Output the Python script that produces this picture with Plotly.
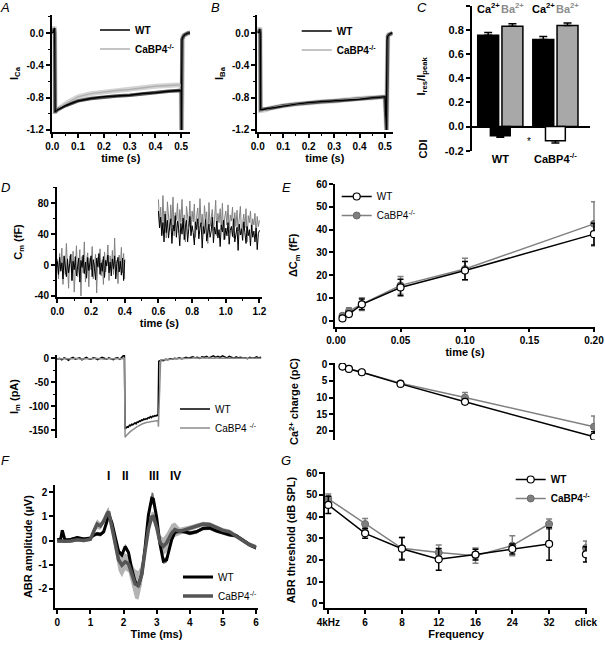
import numpy as np
import plotly.graph_objects as go

FONT = "Arial, 'Liberation Sans', Helvetica, sans-serif"
W, H = 605, 646

# ---------------- data ----------------
# Panel A: normalised Ca2+ current
t_A = [0, 0.004, 0.008, 0.0095, 0.011, 0.013, 0.02, 0.03, 0.05, 0.075, 0.1,
       0.15, 0.2, 0.25, 0.3, 0.35, 0.4, 0.45, 0.5,
       0.501, 0.503, 0.506, 0.51, 0.515, 0.52, 0.527, 0.535]
ica_wt = [0, 0.01, 0.06, 0.0, -0.97, -0.97, -0.95, -0.93, -0.90, -0.87, -0.84,
          -0.81, -0.79, -0.78, -0.77, -0.75, -0.74, -0.72, -0.71,
          -1.2, -0.08, -0.05, -0.03, -0.02, -0.01, 0.0, 0.0]
ica_ko = [0, 0.01, 0.08, 0.0, -0.97, -0.97, -0.95, -0.92, -0.88, -0.83, -0.79,
          -0.75, -0.73, -0.71, -0.70, -0.68, -0.66, -0.65, -0.64,
          -1.2, -0.08, -0.05, -0.03, -0.02, -0.01, 0.0, 0.0]

# Panel B: normalised Ba2+ current
t_B = [0, 0.004, 0.008, 0.0095, 0.011, 0.013, 0.02, 0.03, 0.05, 0.075, 0.1,
       0.15, 0.2, 0.25, 0.3, 0.35, 0.4, 0.45, 0.5,
       0.506, 0.508, 0.511, 0.515, 0.52, 0.525, 0.53]
iba_wt = [0, 0.01, 0.05, 0.0, -0.95, -0.95, -0.95, -0.94, -0.93, -0.91, -0.90,
          -0.88, -0.86, -0.85, -0.84, -0.83, -0.82, -0.80, -0.79,
          -1.2, -0.08, -0.04, -0.02, -0.01, 0.0, 0.0]
iba_ko = [0, 0.01, 0.07, 0.0, -0.96, -0.96, -0.96, -0.95, -0.93, -0.91, -0.90,
          -0.88, -0.86, -0.85, -0.84, -0.82, -0.81, -0.80, -0.79,
          -1.2, -0.08, -0.04, -0.02, -0.01, 0.0, 0.0]

# Panel C: Ires/Ipeak and CDI
groups = ["WT", "CaBP4<sup>-/-</sup>"]
ires_ca = [0.758, 0.722]
ires_ca_err = [0.022, 0.025]
ires_ba = [0.833, 0.839]
ires_ba_err = [0.02, 0.02]
cdi = [-0.075, -0.117]
cdi_err = [0.014, 0.019]

# Panel D: capacitance jumps and currents
cm_wt_pre = [5, -12, 10, -8, 3, -18, 12, -5, -15, 8, -10, 2, 14, -20, 5, -6, 11, -14, 0, 9,
             -22, 6, -3, 13, -11, 4, -17, 10, -7, 2, 12, -15, 7, -4, -19, 9, -2, 15, -12, 3,
             -8, 11, -16, 6, -1, 13, -10, 4, -14, 8, -5, 12, -18, 2, 10, -9, 5, -13, 9, -20, 7]
cm_ko_pre = [8, -18, 15, -5, 22, -25, 10, -12, 28, -8, -30, 12, 3, -20, 18, -35, 6, 25, -15, -2,
             20, -40, 11, -10, 30, -22, 5, 16, -28, 9, -6, 24, -18, 2, 14, -36, 10, -3, 21, -14,
             7, -25, 17, -9, 4, 26, -20, 12, -7, 19, -12, 35, -16, 6, -24, 13, -5, 23, -10, 15, -18]
cm_wt_post = [70, 48, 62, 38, 55, 30, 66, 42, 58, 35, 50, 60, 28, 52, 44, 64, 36, 57, 47, 25,
              54, 40, 61, 33, 49, 58, 30, 45, 63, 38, 51, 42, 26, 56, 46, 60, 34, 48, 55, 22,
              50, 41, 59, 31, 47, 53, 36, 44, 62, 29, 49, 40, 57, 35, 46, 24, 52, 43, 58, 33,
              48, 38, 55, 27, 45, 50, 37, 60, 30, 44, 49, 19, 53, 39, 47, 32, 56, 42, 28, 50,
              38, 46, 25, 52, 36, 44, 30, 48, 20, 41, 45]
cm_ko_post = [85, 55, 75, 40, 90, 50, 70, 35, 82, 60, 45, 78, 52, 88, 38, 68, 58, 80, 42, 72,
              55, 85, 47, 65, 30, 76, 60, 50, 83, 44, 70, 56, 79, 36, 62, 74, 48, 86, 53, 66,
              40, 77, 58, 69, 28, 81, 50, 63, 72, 45, 59, 84, 38, 67, 55, 73, 46, 80, 33, 61,
              70, 52, 78, 42, 65, 57, 75, 35, 68, 50, 71, 44, 62, 76, 40, 58, 66, 48, 73, 30,
              64, 55, 70, 42, 60, 52, 67, 38, 63, 50, 58]
im_wt_pre = [-2, 0, -3, 1, -1, -4, 0, 2, -2, -1, 1, -3, 0, 2, -1, -2, 1, 0, -3, -1,
             2, 0, -2, 1, -1, -3, 0, 1, -2, 3, 8]
im_wt_step = [-148, -145, -143, -144, -140, -141, -138, -139, -136, -135, -137, -133, -134, -131,
              -132, -129, -130, -127, -128, -126, -127, -124, -125, -122, -124, -121, -122, -120,
              -121, -119, -120]
im_wt_post = [-6, -4, -5, -2, -3, -1, -2, 0, -1, 1, -1, 0, 2, 0, 1, 3, 1, 2, 0, 3, 2, 4, 1, 3,
              5, 2, 4, 2, 5, 3, 1, 4, 2, 0, 3, 1, 2, 0, 1, -1, 2, 0, 1, 3, 1, 2]
im_ko_pre = [-1, -1, -2, -1, -1, -2, -1, -1, 0, -1, -1, -2, -1, -1, -1, -2, -1, 0, -1, -1,
             -1, -2, -1, -1, -1, -1, -2, -1, -1, -1, 0]
im_ko_step = [-165, -162, -159, -157, -155, -153, -151, -149, -147, -146, -144, -143, -142, -140,
              -139, -138, -137, -136, -136, -135, -134, -134, -133, -133, -132, -132, -131, -131,
              -131, -130, -130]
im_ko_post = [-143, -4, -3, -3, -2, -2, -2, -1, -1, -1, 0, -1, 0, 0, 0, 0, 1, 0, 0, 1, 0, 0, 1,
              0, 0, 0, 1, 0, 0, 0, 0, 0, -1, 0, 0, 0, 0, -1, 0, 0, 0, 0, -1, 0, 0, 0, 0]

# Panel E: delta Cm and Ca2+ charge vs pulse duration
t_E = [0.005, 0.01, 0.02, 0.05, 0.1, 0.2]
dcm_wt = [1.0, 2.9, 7.2, 14.6, 22.0, 38.0]
dcm_wt_err = [0.5, 1.0, 2.3, 3.6, 4.0, 4.8]
dcm_ko = [2.2, 4.2, 7.3, 15.5, 22.7, 42.5]
dcm_ko_err = [0.8, 1.5, 2.8, 3.9, 4.7, 9.7]
q_wt = [0.7, 1.4, 2.4, 5.9, 11.3, 21.8]
q_wt_err = [0.1, 0.2, 0.3, 0.4, 0.7, 1.5]
q_ko = [0.7, 1.4, 2.4, 5.7, 10.0, 18.8]
q_ko_err = [0.1, 0.2, 0.3, 0.4, 1.5, 3.2]

# Panel F: ABR waveforms (mean and SEM)
t_F = [0, 0.1, 0.15, 0.23, 0.4, 0.6, 0.8, 1.0, 1.1, 1.2, 1.3, 1.4, 1.5, 1.55, 1.65, 1.75,
       1.85, 1.95, 2.05, 2.15, 2.25, 2.35, 2.45, 2.55, 2.65, 2.75, 2.85, 2.9, 3.0, 3.1, 3.2,
       3.3, 3.45, 3.55, 3.7, 3.85, 4.0, 4.2, 4.4, 4.6, 4.8, 5.0, 5.2, 5.4, 5.6, 5.8, 6.0]
abr_wt = [0.03, 0.05, 0.42, 0.02, 0.04, 0.12, 0.06, 0.1, 0.22, 0.28, 0.25, 0.36, 0.8, 1.1,
          0.73, 0.1, -0.45, -0.6, -0.25, -0.5, -1.2, -1.72, -1.88, -1.4, -0.3, 1.05, 1.75,
          1.72, 0.95, -0.15, -0.85, -0.8, 0.02, 0.35, 0.38, 0.36, 0.3, 0.36, 0.5, 0.52, 0.4,
          0.32, 0.24, 0.2, 0.03, -0.17, -0.3]
abr_wt_sem = [0.06, 0.06, 0.06, 0.06, 0.06, 0.06, 0.06, 0.06, 0.07, 0.08, 0.08, 0.08, 0.1,
              0.1, 0.1, 0.1, 0.1, 0.1, 0.1, 0.1, 0.1, 0.12, 0.12, 0.12, 0.12, 0.15, 0.25, 0.25,
              0.15, 0.12, 0.12, 0.12, 0.1, 0.08, 0.08, 0.08, 0.08, 0.08, 0.08, 0.08, 0.08,
              0.08, 0.08, 0.08, 0.08, 0.08, 0.08]
abr_ko = [-0.02, -0.03, 0.0, -0.03, -0.02, 0.03, 0.0, 0.05, 0.39, 0.68, 0.6, 0.8, 1.1, 1.2,
          0.53, -0.17, -0.8, -1.02, -0.88, -0.97, -1.41, -1.8, -1.86, -1.41, -0.44, 0.46, 0.98,
          1.0, 0.55, -0.08, -0.24, -0.1, 0.3, 0.45, 0.38, 0.45, 0.52, 0.6, 0.68, 0.66, 0.53,
          0.42, 0.36, 0.18, 0.0, -0.17, -0.28]
abr_ko_sem = [0.07, 0.07, 0.07, 0.07, 0.07, 0.07, 0.07, 0.07, 0.15, 0.2, 0.15, 0.15, 0.2, 0.2,
              0.2, 0.3, 0.45, 0.5, 0.35, 0.35, 0.45, 0.6, 0.6, 0.45, 0.3, 0.25, 0.2, 0.2, 0.25,
              0.3, 0.35, 0.4, 0.38, 0.3, 0.15, 0.12, 0.1, 0.1, 0.1, 0.1, 0.1, 0.1, 0.1, 0.1,
              0.1, 0.1, 0.1]

# Panel G: ABR thresholds
freq_labels = ["4kHz", "6", "8", "12", "16", "24", "32", "click"]
thr_wt = [45.4, 32.3, 25.2, 20.3, 22.5, 25.1, 27.4, 22.6]
thr_wt_err = [4.0, 2.3, 5.2, 5.0, 2.5, 2.3, 7.5, 3.5]
thr_ko = [48.2, 36.6, 25.4, 23.4, 22.0, 26.6, 36.6, 25.5]
thr_ko_err = [2.2, 2.5, 5.0, 3.5, 3.5, 4.6, 2.3, 3.3]

# ---------------- helpers ----------------
def dom_x(a, b):
    return [a / W, b / W]


def dom_y(top, bot):
    return [1 - bot / H, 1 - top / H]


def tfont(size=10, weight="bold", color="black"):
    return dict(family=FONT, size=size, color=color, weight=weight)


def ticks(vals, fmt):
    return dict(tickmode="array", tickvals=vals, ticktext=[fmt.format(v) for v in vals])


def axis(title=None, standoff=4, **kw):
    d = dict(showline=True, linecolor="black", linewidth=1.5, ticks="outside", ticklen=4,
             tickwidth=1.5, tickcolor="black", showgrid=False, zeroline=False,
             fixedrange=True, automargin=False, tickfont=tfont(10))
    if title is not None:
        d["title"] = dict(text=title, font=tfont(11), standoff=standoff)
    d.update(kw)
    return d


def minor(dt):
    return dict(dtick=dt, ticks="outside", ticklen=2, tickwidth=1, tickcolor="black")


def legend_at(px, py, size=10, weight="bold"):
    return dict(x=px / W, y=1 - py / H, xanchor="left", yanchor="top",
                bgcolor="rgba(0,0,0,0)", borderwidth=0, font=tfont(size, weight),
                tracegroupgap=0, itemclick=False, itemdoubleclick=False)


fig = go.Figure()

# ---------------- A & B ----------------
for (tt, wt, ko, xa, ya, lg) in [(t_A, ica_wt, ica_ko, "x", "y", "legend"),
                                 (t_B, iba_wt, iba_ko, "x2", "y2", "legend2")]:
    fig.add_trace(go.Scatter(x=tt, y=ko, mode="lines", line=dict(color="#d4d4d4", width=5),
                             xaxis=xa, yaxis=ya, showlegend=False, hoverinfo="skip"))
    fig.add_trace(go.Scatter(x=tt, y=wt, mode="lines", line=dict(color="#555555", width=3.5),
                             xaxis=xa, yaxis=ya, showlegend=False, hoverinfo="skip"))
    fig.add_trace(go.Scatter(x=tt, y=ko, mode="lines", line=dict(color="#b0b0b0", width=1.5),
                             xaxis=xa, yaxis=ya, name="CaBP4<sup>-/-</sup>", legend=lg,
                             legendrank=2))
    fig.add_trace(go.Scatter(x=tt, y=wt, mode="lines", line=dict(color="black", width=1.5),
                             xaxis=xa, yaxis=ya, name="WT", legend=lg, legendrank=1))

# ---------------- C ----------------
gx = np.arange(len(groups))
fig.add_trace(go.Bar(x=gx - 0.22, y=ires_ca, width=0.38, xaxis="x3", yaxis="y3",
                     marker=dict(color="black", line=dict(color="black", width=1.5)),
                     error_y=dict(type="data", symmetric=False, array=ires_ca_err,
                                  arrayminus=[0] * len(groups), color="black",
                                  thickness=1.5, width=4),
                     showlegend=False))
fig.add_trace(go.Bar(x=gx + 0.22, y=ires_ba, width=0.38, xaxis="x3", yaxis="y3",
                     marker=dict(color="#a8a8a8", line=dict(color="black", width=1.5)),
                     error_y=dict(type="data", symmetric=False, array=ires_ba_err,
                                  arrayminus=[0] * len(groups), color="black",
                                  thickness=1.5, width=4),
                     showlegend=False))
fig.add_trace(go.Bar(x=gx, y=cdi, width=0.36, xaxis="x3", yaxis="y3",
                     marker=dict(color=["black", "white"], line=dict(color="black", width=1.5)),
                     error_y=dict(type="data", symmetric=False, array=[0] * len(groups),
                                  arrayminus=cdi_err, color="black", thickness=1.5, width=4),
                     showlegend=False))

# ---------------- D ----------------
t_pre = np.linspace(0.0, 0.4, len(cm_wt_pre))
t_post = np.linspace(0.6, 1.2, len(cm_wt_post))
fig.add_trace(go.Scatter(x=np.linspace(0.0, 0.4, len(cm_ko_pre)), y=cm_ko_pre, mode="lines",
                         line=dict(color="#808080", width=1), xaxis="x4", yaxis="y4",
                         showlegend=False))
fig.add_trace(go.Scatter(x=np.linspace(0.6, 1.2, len(cm_ko_post)), y=cm_ko_post, mode="lines",
                         line=dict(color="#808080", width=1), xaxis="x4", yaxis="y4",
                         showlegend=False))
fig.add_trace(go.Scatter(x=t_pre, y=cm_wt_pre, mode="lines", line=dict(color="black", width=1),
                         xaxis="x4", yaxis="y4", showlegend=False))
fig.add_trace(go.Scatter(x=t_post, y=cm_wt_post, mode="lines", line=dict(color="black", width=1),
                         xaxis="x4", yaxis="y4", showlegend=False))

t_im_wt = np.concatenate([np.linspace(0.0, 0.398, len(im_wt_pre)),
                          np.linspace(0.402, 0.598, len(im_wt_step)),
                          np.linspace(0.602, 1.21, len(im_wt_post))])
t_im_ko = np.concatenate([np.linspace(0.0, 0.398, len(im_ko_pre)),
                          np.linspace(0.402, 0.598, len(im_ko_step)),
                          np.linspace(0.600, 1.21, len(im_ko_post))])
fig.add_trace(go.Scatter(x=t_im_wt, y=im_wt_pre + im_wt_step + im_wt_post, mode="lines",
                         line=dict(color="black", width=1.5), xaxis="x4", yaxis="y5",
                         name="WT", legend="legend3", legendrank=1))
fig.add_trace(go.Scatter(x=t_im_ko, y=im_ko_pre + im_ko_step + im_ko_post, mode="lines",
                         line=dict(color="#8c8c8c", width=1.5), xaxis="x4", yaxis="y5",
                         name="CaBP4 <sup>-/-</sup>", legend="legend3", legendrank=2))

# ---------------- E ----------------
ko_marker = dict(symbol="circle", size=7, color="#7f7f7f", line=dict(color="#6a6a6a", width=1))
wt_marker = dict(symbol="circle", size=7, color="white", line=dict(color="black", width=1.2))
fig.add_trace(go.Scatter(x=t_E, y=dcm_ko, mode="lines+markers", xaxis="x6", yaxis="y6",
                         line=dict(color="#808080", width=1.5), marker=ko_marker,
                         error_y=dict(array=dcm_ko_err, color="#808080", thickness=1.5, width=3),
                         name="CaBP4<sup>-/-</sup>", legend="legend4", legendrank=2))
fig.add_trace(go.Scatter(x=t_E, y=dcm_wt, mode="lines+markers", xaxis="x6", yaxis="y6",
                         line=dict(color="black", width=1.5), marker=wt_marker,
                         error_y=dict(array=dcm_wt_err, color="black", thickness=1.5, width=3),
                         name="WT", legend="legend4", legendrank=1))
fig.add_trace(go.Scatter(x=t_E, y=q_ko, mode="lines+markers", xaxis="x6", yaxis="y7",
                         line=dict(color="#808080", width=1.5), marker=ko_marker,
                         error_y=dict(array=q_ko_err, color="#808080", thickness=1.5, width=3),
                         showlegend=False))
fig.add_trace(go.Scatter(x=t_E, y=q_wt, mode="lines+markers", xaxis="x6", yaxis="y7",
                         line=dict(color="black", width=1.5), marker=wt_marker,
                         error_y=dict(array=q_wt_err, color="black", thickness=1.5, width=3),
                         showlegend=False))

# ---------------- F ----------------
tF = list(t_F)
for (v, s, col) in [(abr_ko, abr_ko_sem, "#b3b3b3"), (abr_wt, abr_wt_sem, "#6b6b6b")]:
    up = [a + b for a, b in zip(v, s)]
    lo = [a - b for a, b in zip(v, s)]
    fig.add_trace(go.Scatter(x=tF + tF[::-1], y=up + lo[::-1], fill="toself", fillcolor=col,
                             line=dict(width=0, color=col), mode="lines", xaxis="x8",
                             yaxis="y8", showlegend=False, hoverinfo="skip"))
fig.add_trace(go.Scatter(x=tF, y=abr_wt, mode="lines", line=dict(color="black", width=3),
                         xaxis="x8", yaxis="y8", name="WT", legend="legend5", legendrank=1))
fig.add_trace(go.Scatter(x=tF, y=abr_ko, mode="lines", line=dict(color="#555555", width=3.5),
                         xaxis="x8", yaxis="y8", name="CaBP4<sup>-/-</sup>", legend="legend5",
                         legendrank=2))

# ---------------- G ----------------
n_line = len(freq_labels) - 1
fig.add_trace(go.Scatter(x=freq_labels[:n_line], y=thr_ko[:n_line], mode="lines+markers",
                         xaxis="x9", yaxis="y9", line=dict(color="#808080", width=1.5),
                         marker=ko_marker,
                         error_y=dict(array=thr_ko_err[:n_line], color="#808080", thickness=1.5,
                                      width=3),
                         name="CaBP4<sup>-/-</sup>", legend="legend6", legendrank=2))
fig.add_trace(go.Scatter(x=freq_labels[n_line:], y=thr_ko[n_line:], mode="markers",
                         xaxis="x9", yaxis="y9", marker=ko_marker,
                         error_y=dict(array=thr_ko_err[n_line:], color="#808080", thickness=1.5,
                                      width=3), showlegend=False))
fig.add_trace(go.Scatter(x=freq_labels[:n_line], y=thr_wt[:n_line], mode="lines+markers",
                         xaxis="x9", yaxis="y9", line=dict(color="black", width=1.5),
                         marker=wt_marker,
                         error_y=dict(array=thr_wt_err[:n_line], color="black", thickness=1.5,
                                      width=3),
                         name="WT", legend="legend6", legendrank=1))
fig.add_trace(go.Scatter(x=freq_labels[n_line:], y=thr_wt[n_line:], mode="markers",
                         xaxis="x9", yaxis="y9", marker=wt_marker,
                         error_y=dict(array=thr_wt_err[n_line:], color="black", thickness=1.5,
                                      width=3), showlegend=False))

# ---------------- layout ----------------
I_ticks = ticks([0.0, -0.4, -0.8, -1.2], "{:.1f}")
layout = dict(
    width=W, height=H, margin=dict(l=0, r=0, t=0, b=0, autoexpand=False),
    paper_bgcolor="white", plot_bgcolor="white", barmode="overlay",
    hovermode=False, font=dict(family=FONT, color="black"),
    xaxis=axis("time (s)", 3, domain=dom_x(51.5, 190), range=[-0.003, 0.534], anchor="y",
               minor=minor(0.05), **ticks([0, 0.1, 0.2, 0.3, 0.4, 0.5], "{:.1f}")),
    yaxis=axis("I<sub>Ca</sub>", 6, domain=dom_y(15, 132), range=[-1.225, 0.223], anchor="x",
               minor=minor(0.2), **I_ticks),
    xaxis2=axis("time (s)", 3, domain=dom_x(257, 392.6), range=[-0.003, 0.53], anchor="y2",
                minor=minor(0.05), **ticks([0, 0.1, 0.2, 0.3, 0.4, 0.5], "{:.1f}")),
    yaxis2=axis("I<sub>Ba</sub>", 6, domain=dom_y(15, 132), range=[-1.225, 0.223], anchor="x2",
                minor=minor(0.2), **I_ticks),
    xaxis3=dict(domain=dom_x(471.7, 590), range=[-0.519, 1.628], anchor="y3", showline=False,
                ticks="", showgrid=False, zeroline=False, fixedrange=True, automargin=False,
                tickmode="array", tickvals=list(gx), ticktext=groups, tickfont=tfont(11)),
    yaxis3=axis(None, domain=dom_y(6, 150.7), range=[-0.2, 1.0], anchor="x3",
                zeroline=True, zerolinecolor="black", zerolinewidth=1.5,
                tickfont=tfont(11), **ticks([-0.2, 0.0, 0.2, 0.4, 0.6, 0.8, 1.0], "{:.1f}")),
    xaxis4=axis("time (s)", 3, domain=dom_x(56.7, 262), range=[-0.004, 1.215], anchor="y4",
                minor=minor(0.1), **ticks([0, 0.2, 0.4, 0.6, 0.8, 1.0, 1.2], "{:.1f}")),
    yaxis4=axis("C<sub>m</sub> (fF)", 10, domain=dom_y(186.7, 297.3), range=[-41.7, 101.5],
                anchor="x4", minor=minor(20), **ticks([-40, 0, 40, 80], "{:d}")),
    yaxis5=axis("I<sub>m</sub> (pA)", 8, domain=dom_y(355, 438), range=[-166.7, 6.9],
                anchor="x4", minor=minor(25), **ticks([-150, -100, -50, 0], "{:d}")),
    xaxis6=axis("time (s)", 3, domain=dom_x(335, 595), range=[-0.0008, 0.2008], anchor="y6",
                **ticks([0, 0.05, 0.1, 0.15, 0.2], "{:.2f}")),
    yaxis6=axis("ΔC<sub>m</sub> (fF)", 16, domain=dom_y(184, 326.7), range=[-2.63, 60],
                anchor="x6", **ticks([0, 10, 20, 30, 40, 50, 60], "{:d}")),
    yaxis7=axis("Ca<sup>2+</sup> charge (pC)", 15, domain=dom_y(363, 440), range=[22.8, -0.39],
                anchor="x6", **ticks([0, 5, 10, 15, 20], "{:d}")),
    xaxis8=axis("Time (ms)", 3, domain=dom_x(55, 258), range=[-0.07, 6.06], anchor="y8",
                **ticks([0, 1, 2, 3, 4, 5, 6], "{:d}")),
    yaxis8=axis("ABR amplitude (µV)", 3, domain=dom_y(485, 608.3), range=[-2.81, 2.30],
                anchor="x8", **ticks([-2, -1, 0, 1, 2], "{:d}")),
    xaxis9=axis("Frequency", 3, domain=dom_x(325, 587), range=[-0.09, 7.03], anchor="y9",
                type="category", categoryorder="array", categoryarray=freq_labels),
    yaxis9=axis("ABR threshold (dB SPL)", 8, domain=dom_y(471.7, 608.3), range=[-2.31, 60.74],
                anchor="x9", **ticks([0, 10, 20, 30, 40, 50, 60], "{:d}")),
    legend=legend_at(95, 15.5),
    legend2=legend_at(296.7, 16.5),
    legend3=legend_at(175, 394.5, 10, "normal"),
    legend4=legend_at(336.7, 182, 10, "normal"),
    legend5=legend_at(178, 562.5, 10, "normal"),
    legend6=legend_at(510.7, 465, 10, "bold"),
)
fig.update_layout(**layout)

ann = []
for lab, px, py in [("A", 5, 7), ("B", 215, 7), ("C", 422, 7), ("D", 5, 187),
                    ("E", 286, 187), ("F", 5, 460), ("G", 286, 460)]:
    ann.append(dict(text=lab, x=px / W, y=1 - py / H, xref="paper", yref="paper",
                    showarrow=False, xanchor="center", yanchor="middle",
                    font=dict(family=FONT, size=13, color="black", style="italic")))
# C labels
for i in range(len(groups)):
    ann.append(dict(text="Ca<sup>2+</sup>", x=gx[i] - 0.22, y=0.985, xref="x3", yref="y3",
                    showarrow=False, font=tfont(11)))
    ann.append(dict(text="Ba<sup>2+</sup>", x=gx[i] + 0.22, y=0.985, xref="x3", yref="y3",
                    showarrow=False, font=tfont(11, color="#8c8c8c")))
ann.append(dict(text="*", x=0.52, y=-0.12, xref="x3", yref="y3", showarrow=False,
                font=tfont(10, "normal")))
ann.append(dict(text="I<sub>res</sub>/I<sub>peak</sub>", x=430 / W, y=1 - 55 / H, xref="paper",
                yref="paper", showarrow=False, textangle=-90, font=tfont(11)))
ann.append(dict(text="CDI", x=430 / W, y=1 - 138 / H, xref="paper", yref="paper",
                showarrow=False, textangle=-90, font=tfont(11)))
# F wave labels (x in data units, y just above the plot area)
for lab, tx in [("I", 1.56), ("II", 2.07), ("III", 2.92), ("IV", 3.57)]:
    ann.append(dict(text=lab, x=tx, y=1 - 485 / H, xref="x8", yref="paper", showarrow=False,
                    font=tfont(12)))
fig.update_layout(annotations=ann)

# remove the default page margin so the 605x646 figure fills the window exactly
fig.write_html("out.html",
               config={"displayModeBar": False, "staticPlot": False},
               post_script="document.body.style.margin='0px';document.body.style.padding='0px';")
